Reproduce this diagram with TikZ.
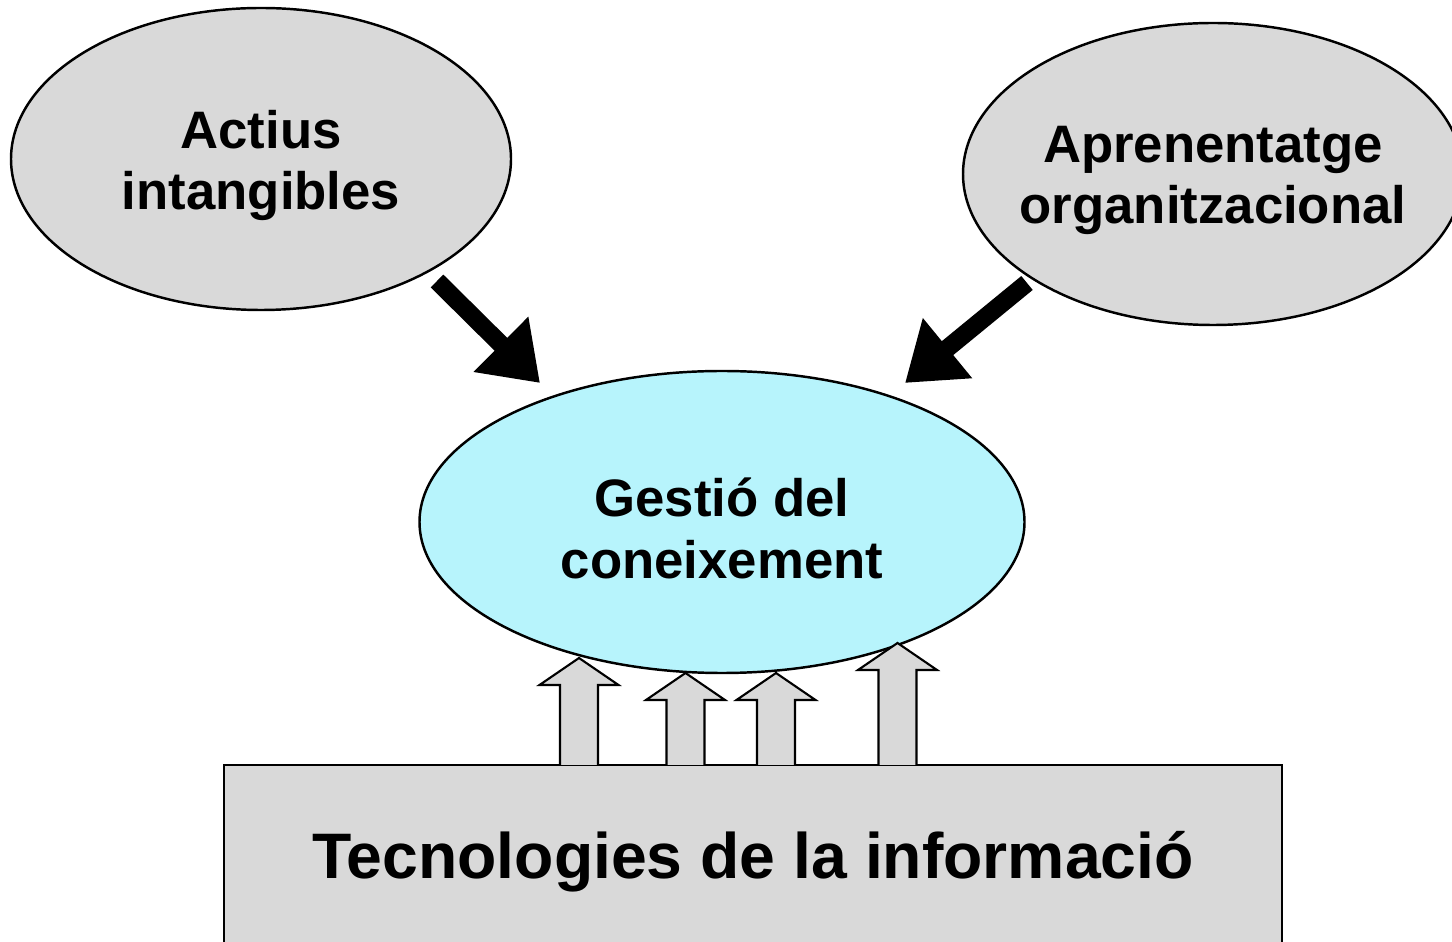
\documentclass[tikz,border=0pt]{standalone}
\usepackage{fontspec}
\setmainfont{Liberation Sans}
\usetikzlibrary{positioning,arrows.meta,shapes.geometric}
\definecolor{ovalgray}{RGB}{217,217,217}
\definecolor{ovalcyan}{RGB}{183,244,252}

\begin{document}
\begin{tikzpicture}[
  oval/.style={draw, ellipse, line width=0.7pt, inner sep=0pt, minimum height=3.02cm},
  ovaltext/.style={font=\fontsize{15}{17.6}\selectfont\bfseries, align=center, yshift=-0.065cm},
  influx/.style={line width=0.18cm, -{Triangle[length=0.55cm, width=0.74cm]}},
  blockarrow/.style={draw, fill=ovalgray, line width=0.6pt, line join=miter}
]
  \useasboundingbox (0,0) rectangle (14.52,-9.42);

  % Outer concepts
  \node[oval, fill=ovalgray, minimum width=5cm]    (actius)  at (2.61,-1.59) {};
  \node[ovaltext] (actiustext) at (actius) {Actius\\intangibles};
  \node[oval, fill=ovalgray, minimum width=5cm]    (aprenent) at (12.13,-1.74) {};
  \node[ovaltext] (aprenenttext) at (aprenent) {Aprenentatge\\organitzacional};

  % Central concept
  \node[oval, fill=ovalcyan, minimum width=6.05cm] (gestio) at (7.22,-5.22) {};
  \node[ovaltext] (gestiotext) at (gestio) {Gestió del\\coneixement};

  % Base layer
  \node[draw, fill=ovalgray, line width=0.7pt, minimum width=10.58cm, minimum height=1.84cm]
    (tec) at (7.53,-8.57) {};
  \node[font=\fontsize{18.3}{21}\selectfont\bfseries, yshift=-0.05cm]
    (tectext) at (tec) {Tecnologies de la informació};

  % Black arrows towards the centre
  \coordinate (actiusout)   at (4.37,-2.81);
  \coordinate (aprenentout) at (10.27,-2.83);
  \coordinate (gestioleft)  at (5.40,-3.83);
  \coordinate (gestioright) at (9.05,-3.83);
  \draw[influx] (actiusout) -- (gestioleft);
  \draw[influx] (aprenentout) -- (gestioright);

  % Hollow arrows from the base layer
  \foreach \x/\t in {5.79/6.58, 6.855/6.73, 7.76/6.73, 8.975/6.43}
    \path[blockarrow] (\x-0.19,-7.65) -- (\x-0.19,-\t-0.27) -- (\x-0.395,-\t-0.27)
      -- (\x,-\t) -- (\x+0.395,-\t-0.27) -- (\x+0.19,-\t-0.27) -- (\x+0.19,-7.65);
\end{tikzpicture}
\end{document}
